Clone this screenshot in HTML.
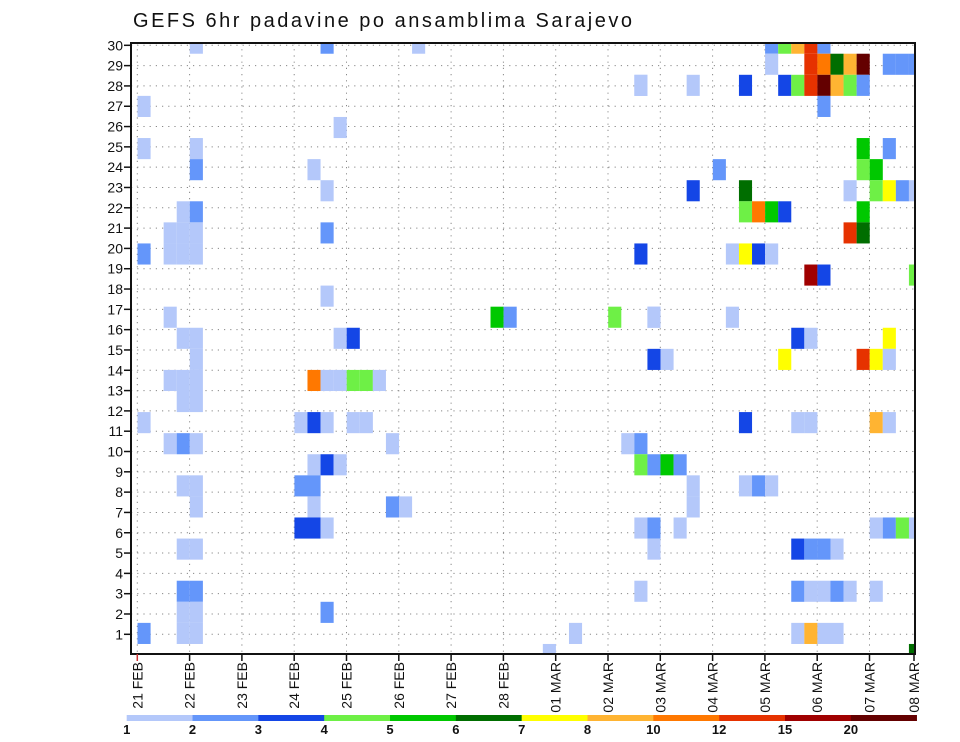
<!DOCTYPE html>
<html><head><meta charset="utf-8"><title>GEFS 6hr padavine po ansamblima Sarajevo</title>
<style>html,body{margin:0;padding:0;background:#fff}svg{display:block}</style></head>
<body>
<svg id="chart" width="960" height="742" viewBox="0 0 960 742" xmlns="http://www.w3.org/2000/svg" font-family="Liberation Sans, sans-serif">
<text x="133" y="27" font-size="20" textLength="499" lengthAdjust="spacing" fill="#111">GEFS 6hr padavine po ansamblima Sarajevo</text>
<g id="grid"></g>
<g id="cells"></g>
<g id="axes"></g>
<g id="legend"></g>
</svg>
<script>
// Data: ensemble member row index (0..29), 6-hourly time step index (0 = 21 FEB 00z), precipitation mm
const cellMember = [29,29,29,26,25,24,24,23,23,22,21,21,20,20,20,20,19,19,19,19,17,16,15,15,15,15,
 14,13,13,13,13,13,13,13,13,13,12,12,11,11,11,11,11,11,10,10,10,10,9,9,9,8,8,8,8,7,7,7,7,6,6,6,5,5,3,3,2,2,2,1,1,1,
 27,19,16,16,16,16,14,10,10,9,9,9,9,7,6,6,5,3,1,0,
 29,29,29,29,29,28,28,28,28,28,28,28,28,28,27,27,27,27,27,27,27,27,27,27,26,24,24,23,23,23,
 22,22,22,22,22,22,22,21,21,21,21,21,20,20,19,19,19,19,18,18,18,16,16,15,15,15,
 14,14,14,14,14,11,11,11,11,11,8,8,8,8,6,6,6,6,6,6,5,5,5,5,3,3,3,3,3,3,1,1,1,1,0];
const cellTime = [4,14,21,0,15,0,4,4,13,14,3,4,2,3,4,14,0,2,3,4,14,2,3,4,15,16,
 4,2,3,4,13,14,15,16,17,18,3,4,0,12,13,14,16,17,2,3,4,19,13,14,15,3,4,12,13,4,13,19,20,12,13,14,3,4,3,4,3,4,14,0,3,4,
 38,38,27,28,36,39,39,37,38,38,39,40,41,42,38,39,39,38,33,31,
 48,49,50,51,52,48,51,52,53,54,55,57,58,59,38,42,46,49,50,51,52,53,54,55,52,55,57,44,55,56,
 42,46,54,56,57,58,59,46,47,48,49,55,54,55,45,46,47,48,51,52,59,39,45,50,51,57,
 40,49,55,56,57,46,50,51,56,57,42,46,47,48,41,56,57,58,59,59,50,51,52,53,50,51,52,53,54,56,50,51,52,53,59];
const cellValue = [1.5,2.5,1.5,1.5,1.5,1.5,1.5,2.5,1.5,1.5,1.5,2.5,1.5,1.5,1.5,2.5,2.5,1.5,1.5,1.5,1.5,1.5,1.5,1.5,1.5,3.5,
 1.5,1.5,1.5,1.5,11,1.5,1.5,4.5,4.5,1.5,1.5,1.5,1.5,1.5,3.5,1.5,1.5,1.5,1.5,2.5,1.5,1.5,1.5,3.5,1.5,1.5,1.5,2.5,2.5,1.5,1.5,2.5,1.5,3.5,3.5,1.5,1.5,1.5,2.5,2.5,1.5,1.5,2.5,2.5,1.5,1.5,
 1.5,3.5,5.5,2.5,4.5,1.5,3.5,1.5,2.5,4.5,2.5,5.5,2.5,1.5,1.5,2.5,1.5,1.5,1.5,1.5,
 2.5,4.5,9,13.5,2.5,1.5,13.5,11,6.5,9,22,2.5,2.5,2.5,1.5,1.5,3.5,3.5,4.5,13.5,22,9,4.5,2.5,2.5,5.5,2.5,2.5,4.5,5.5,
 3.5,6.5,1.5,4.5,7.5,2.5,1.5,4.5,11,5.5,3.5,5.5,13.5,6.5,1.5,7.5,3.5,1.5,17,3.5,4.5,1.5,1.5,3.5,1.5,7.5,
 1.5,7.5,13.5,7.5,1.5,3.5,1.5,1.5,9,1.5,1.5,1.5,2.5,1.5,1.5,1.5,2.5,4.5,5.5,1.5,3.5,2.5,2.5,1.5,2.5,1.5,1.5,2.5,1.5,1.5,1.5,9,1.5,1.5,6.5];
const levelBounds = [1,2,3,4,5,6,7,8,10,12,15,20];
const levelColors = ["#b4c8fa","#6496fa","#1446e6","#6ef046","#00c800","#006e00","#ffff00","#ffb432","#ff7800","#e63200","#a00000","#640000"];
const dayLabels = ["21 FEB","22 FEB","23 FEB","24 FEB","25 FEB","26 FEB","27 FEB","28 FEB","01 MAR","02 MAR","03 MAR","04 MAR","05 MAR","06 MAR","07 MAR","08 MAR"];
const rowLabels = [1,2,3,4,5,6,7,8,9,10,11,12,13,14,15,16,17,18,19,20,21,22,23,24,25,26,27,28,29,30];

const NS="http://www.w3.org/2000/svg";
const L=131,R=915,T=43,B=654;
function xStep(j){return 137.5+13.075*j;}
function xDay(d){return 137.3+52.3*d;}
function yMember(k){return 654.5-21.08*k;}
function yLabel(r){return 634.3-20.31*(r-1);}
function colorFor(v){let c=null;for(let i=0;i<levelBounds.length;i++){if(v>=levelBounds[i])c=levelColors[i];}return c;}
function mk(tag,attrs,parent){const e=document.createElementNS(NS,tag);for(const k in attrs)e.setAttribute(k,attrs[k]);parent.appendChild(e);return e;}

const svg=document.getElementById('chart');
const defs=mk('defs',{},svg);
const cp=mk('clipPath',{id:'plotclip'},defs);
mk('rect',{x:L,y:T,width:R-L,height:B-T},cp);

const grid=document.getElementById('grid');
grid.setAttribute('clip-path','url(#plotclip)');
for(const r of rowLabels){
  const ln=mk('line',{x1:L,x2:R,y1:yLabel(r),y2:yLabel(r),stroke:'#888','stroke-width':1,'stroke-dasharray':'1.2,5'},grid);
  
  
}
for(let d=0;d<dayLabels.length;d++){
  const ln=mk('line',{x1:xDay(d),x2:xDay(d),y1:T,y2:B,stroke:'#888','stroke-width':1,'stroke-dasharray':'1.2,5'},grid);
  
  
}

const cells=document.getElementById('cells');
cells.setAttribute('clip-path','url(#plotclip)');
for(let i=0;i<cellValue.length;i++){
  const c=colorFor(cellValue[i]); if(!c) continue;
  const x=xStep(cellTime[i]), y=yMember(cellMember[i])-10.54;
  const rc=mk('rect',{x:x,y:y,width:13.1,height:21.1,fill:c},cells);
  
  
}

const axes=document.getElementById('axes');
const fr=mk('rect',{x:L,y:T,width:R-L,height:B-T,fill:'none',stroke:'#111','stroke-width':2},axes);


for(const r of rowLabels){
  const tk=mk('line',{x1:L-7,x2:L,y1:yLabel(r),y2:yLabel(r),stroke:'#111','stroke-width':1.5},axes);
  
  
  const t=mk('text',{x:L-8,y:yLabel(r)+5,'font-size':14,'text-anchor':'end',fill:'#111'},axes);
  t.textContent=r;
  
  
}
for(let d=0;d<dayLabels.length;d++){
  const x=Math.min(xDay(d),914);
  const tk=mk('line',{x1:x,x2:x,y1:B,y2:B+7,stroke:d===0?'#c33':'#111','stroke-width':1.5},axes);
  
  
  const t=mk('text',{x:0,y:0,'font-size':14,'text-anchor':'end',fill:'#111',transform:'translate('+(x+5)+','+(B+8)+') rotate(-90)'},axes);
  t.textContent=dayLabels[d];
  
  
}

const legend=document.getElementById('legend');
const lx0=126.7, lw=65.83;
for(let i=0;i<levelColors.length;i++){
  const rc=mk('rect',{x:lx0+i*lw,y:715,width:lw+0.3,height:6,fill:levelColors[i]},legend);
  
  
  const t=mk('text',{x:lx0+i*lw,y:734,'font-size':13,'font-weight':'bold','text-anchor':'middle',fill:'#111'},legend);
  t.textContent=levelBounds[i];
  
  
}
</script>
</body></html>
